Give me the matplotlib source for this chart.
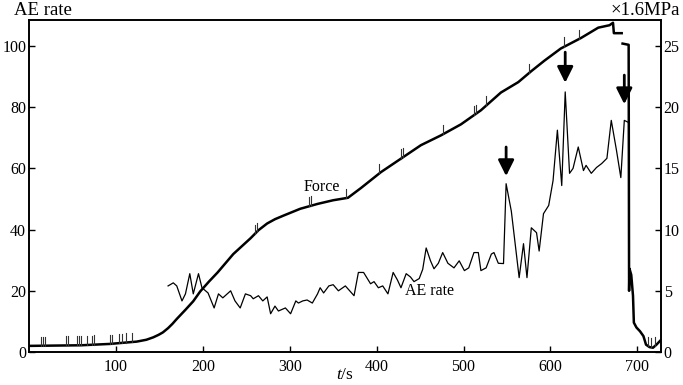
import numpy as np
import matplotlib
matplotlib.use("Agg")
import matplotlib.pyplot as plt

plt.rcParams['font.family'] = ['Liberation Serif', 'DejaVu Serif']
plt.rcParams['mathtext.fontset'] = 'custom'
plt.rcParams['mathtext.it'] = 'Liberation Serif:italic'
plt.rcParams['mathtext.rm'] = 'Liberation Serif'

# AE rate (left axis)
ae_t = [160, 166, 170, 176, 180, 185, 189, 195, 199, 206, 213, 218, 223, 232, 237,
        243, 249, 255, 258, 264, 269, 274, 278, 283, 287, 295, 301, 307, 310, 315,
        320, 326, 332, 335, 339, 345, 350, 356, 364, 369, 374, 379, 385, 393, 397,
        402, 407, 413, 419, 424, 428, 434, 439, 443, 449, 453, 457, 462, 466, 471,
        476, 482, 489, 495, 501, 506, 512, 517, 520, 526, 532, 535, 540, 546, 549,
        555, 564, 569, 573, 578, 584, 587, 592, 598, 603, 608, 613, 617, 622, 626,
        632, 638, 641, 647, 653, 659, 665, 670, 676, 681, 685, 690]
ae_v = [21.6, 22.6, 21.6, 16.7, 19.0, 25.6, 19.0, 25.6, 21.0, 19.3, 14.4, 19.0, 17.7, 20.0, 16.7,
        14.4, 19.0, 18.4, 17.4, 18.4, 16.7, 18.0, 12.5, 15.0, 13.4, 14.4, 12.5, 16.7, 16.0, 16.7,
        17.0, 16.0, 19.0, 21.0, 19.3, 21.6, 22.0, 20.0, 21.6, 20.0, 18.4, 26.0, 26.0, 22.3, 23.0,
        21.0, 21.6, 19.0, 26.0, 23.5, 21.0, 25.6, 24.5, 23.0, 24.0, 27.0, 34.0, 29.8, 27.2, 29.0,
        32.5, 29.0, 27.5, 29.8, 26.6, 27.5, 32.5, 32.5, 26.6, 27.5, 32.0, 32.5, 29.0, 28.9, 55.0,
        46.0, 24.3, 35.4, 24.3, 40.6, 39.0, 33.0, 45.2, 47.9, 56.0, 72.5, 54.4, 85.0, 58.4, 60.0,
        67.0, 59.3, 61.0, 58.4, 60.3, 61.6, 63.3, 75.7, 65.9, 57.0, 75.7, 75.0]

# Force (right axis, x1.6 MPa); NaN marks a gap in the trace
force_t = [0, 60, 93, 124, 135, 143, 149, 154, 160, 165, 170, 180, 189, 197, 207, 217,
           226, 235, 245, 255, 264, 274, 283, 293, 312,
           332, 350, 367, 382, 405, 428, 451, 474, 497, 520, 543, 563, 578, 593, 612,
           635, 655, 668, 672, 673, 682, 682.5, 683, 690, 690.5, 691, 693, 695, 696,
           699, 703, 707, 710, 714, 718, 722, 726]
force_v = [0.5, 0.55, 0.66, 0.85, 1.0, 1.2, 1.4, 1.6, 1.95, 2.3, 2.7, 3.45, 4.15, 4.95, 5.75, 6.5,
           7.25, 8.0, 8.65, 9.3, 9.95, 10.5, 10.85, 11.15, 11.7,
           12.1, 12.4, 12.6, 13.4, 14.7, 15.8, 16.9, 17.7, 18.6, 19.75, 21.2, 22.05, 22.95, 23.8, 24.8,
           25.65, 26.5, 26.7, 26.9, 26.05, 26.05, np.nan, 25.2, 25.1, 5.0, 6.8, 6.3, 4.6, 2.4,
           2.0, 1.7, 1.3, 0.6, 0.4, 0.35, 0.6, 0.9]

# small spikes on the force trace
spike_t = [14, 16, 18, 42, 45, 55, 58, 60, 67, 72, 75, 93, 96, 104, 107, 112, 118,
           260, 262, 322, 325, 365, 403, 428, 430, 476, 512, 514, 526, 575, 616, 633,
           712, 716, 720]

# arrows marking AE peaks (left-axis units)
arrow_t = [549, 617, 685]
arrow_tip = [57.5, 88.0, 81.0]
arrow_tail = [67.0, 98.0, 90.5]

fig = plt.figure(figsize=(6.83, 3.85), dpi=100)
ax = fig.add_axes([0.0425, 0.0857, 0.925, 0.8623])
ax2 = ax.twinx()

ax.plot(ae_t, ae_v, color='black', lw=0.9)
ax2.plot(force_t, force_v, color='black', lw=1.8)

ft = np.array(force_t, dtype=float)
fv = np.array(force_v, dtype=float)
ok = ~np.isnan(fv)
for st in spike_t:
    base = np.interp(st, ft[ok], fv[ok])
    ax2.plot([st, st], [base, base + 0.75], color='#333333', lw=0.8)

for t, tip, tail in zip(arrow_t, arrow_tip, arrow_tail):
    ax.annotate('', xy=(t, tip), xytext=(t, tail),
                arrowprops=dict(arrowstyle='-|>,head_length=0.8,head_width=0.4',
                                lw=2.0, color='black', shrinkA=0, shrinkB=0,
                                mutation_scale=12))

ax.set_xlim(0, 727)
ax.set_ylim(0, 108.5)
ax2.set_ylim(0, 108.5 / 4)

ax.set_xticks([100, 200, 300, 400, 500, 600, 700])
ax.set_yticks([0, 20, 40, 60, 80, 100])
ax2.set_yticks([0, 5, 10, 15, 20, 25])

for a in (ax, ax2):
    a.tick_params(direction='in', length=4, width=1, labelsize=11.5, pad=2)
    for s in a.spines.values():
        s.set_linewidth(1.2)
ax.tick_params(axis='x', pad=5)

fig.text(0.021, 0.972, 'AE rate', fontsize=13.5, ha='left', va='center')
fig.text(0.996, 0.972, '\u00d71.6MPa', fontsize=13.5, ha='right', va='center')
fig.text(0.505, 0.027, r'$t$/s', fontsize=12.5, ha='center', va='center')

ax.text(316, 53.8, 'Force', fontsize=11.5, ha='left', va='center')
ax.text(433, 20.0, 'AE rate', fontsize=11.5, ha='left', va='center')

fig.savefig('out.png', dpi=100)
